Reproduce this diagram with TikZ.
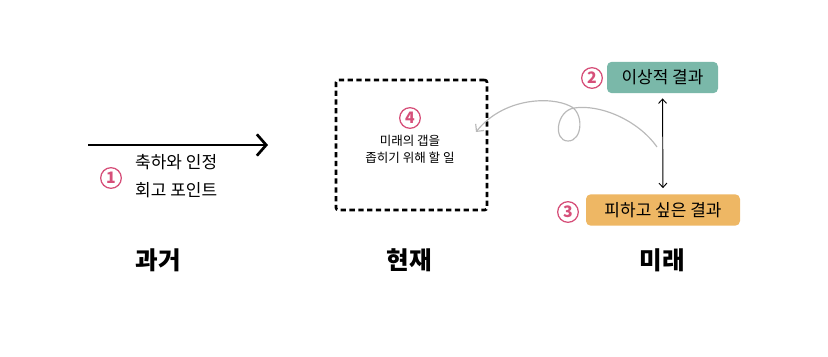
\documentclass[tikz,border=0pt]{standalone}
\usepackage{fontspec}
\setmainfont{Noto Sans CJK KR}
\usetikzlibrary{positioning,arrows.meta}
\definecolor{numpink}{RGB}{214,80,122}
\definecolor{idealc}{RGB}{122,184,169}
\definecolor{avoidc}{RGB}{238,183,100}
\definecolor{swirlc}{RGB}{185,185,185}
\tikzset{
  num/.style={circle,draw=numpink,line width=1.1pt,text=numpink,minimum size=6.2mm,inner sep=0pt,font=\fontsize{13.5}{13.5}\selectfont\bfseries},
  resbox/.style={rectangle,rounded corners=4pt,minimum height=9.4mm,inner sep=0pt,font=\fontsize{14.5}{16}\selectfont},
  eralabel/.style={font=\fontsize{21}{24}\selectfont\bfseries},
  notetext/.style={font=\fontsize{14.5}{24}\selectfont,align=left,inner sep=0pt},
  gaptext/.style={font=\fontsize{10.7}{14.5}\selectfont,align=center,inner sep=0pt},
  gapbox/.style={rectangle,draw=black,line width=2.3pt,dash pattern=on 4.5pt off 3pt,rounded corners=2pt,minimum width=4.53cm,minimum height=3.9cm},
  % timeline arrow and the connectors on the right
  timeline/.style={-{Straight Barb[length=2.8mm,width=6.4mm]},line width=2.3pt},
  dbl/.style={{Straight Barb[length=1.3mm,width=2.4mm]}-{Straight Barb[length=1.3mm,width=2.4mm]},line width=0.8pt},
  swirl/.style={-{Straight Barb[length=1.6mm,width=3.2mm]},line width=1pt,swirlc},
}

\begin{document}
\begin{tikzpicture}[x=0.03cm,y=-0.03cm]
  \useasboundingbox (0,0) rectangle (828,356);
  % past
  \coordinate (t0) at (88,145); \coordinate (t1) at (268,145);
  \draw[timeline] (t0) -- (t1);
  \node[num] (n1) at (111,178) {1};
  \node[notetext,anchor=west] (praise) at (135,176) {축하와 인정\\회고 포인트};
  \node[eralabel] (past) at (158,260) {과거};
  % present
  \node[gapbox] (gap) at (411.5,145) {};
  \node[num] (n4) at (410,118) {4};
  \node[gaptext] (gaptodo) at (410,149.5) {미래의 갭을\\좁히기 위해 할 일};
  \node[eralabel] (now) at (409,260) {현재};
  % future
  \node[resbox,fill=idealc,minimum width=3.33cm] (ideal) at (662.5,77.5) {이상적 결과};
  \node[resbox,fill=avoidc,minimum width=4.62cm] (avoid) at (663,210) {피하고 싶은 결과};
  \node[num] (n2) at (592,78) {2};
  \node[num] (n3) at (568,212) {3};
  \node[eralabel] (future) at (662,260) {미래};
  \draw[dbl,shorten <=1.5mm,shorten >=1.8mm] (ideal.south) -- (avoid.north);
  \coordinate (sw0) at (657,147); \coordinate (sw1) at (476,132);
  \draw[swirl] (sw0) .. controls (638,120) and (600,104) .. (574,108)
    .. controls (556,111) and (553,141) .. (568,141)
    .. controls (583,141) and (584,112) .. (570,106)
    .. controls (550,96) and (503,98) .. (sw1);
\end{tikzpicture}
\end{document}
